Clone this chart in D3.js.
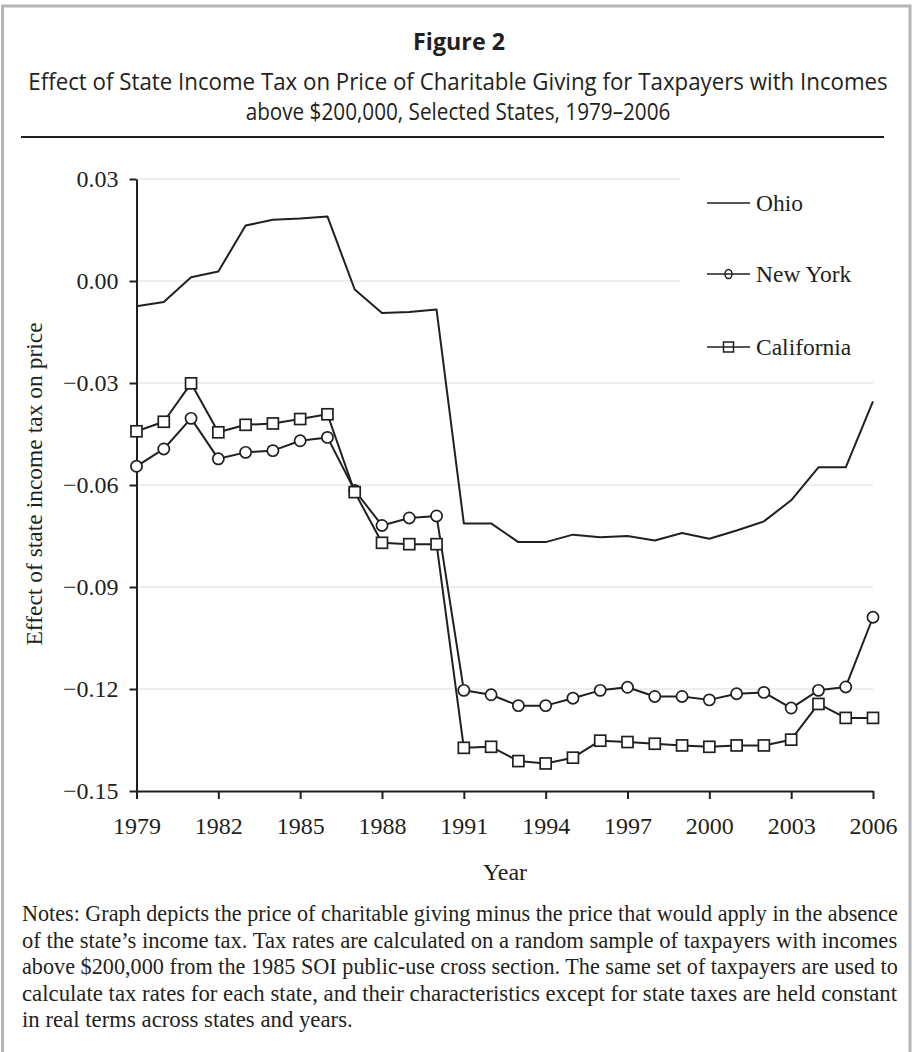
<!DOCTYPE html>
<html>
<head>
<meta charset="utf-8">
<script src="https://cdn.jsdelivr.net/npm/d3@7"></script>
<style>
  body { margin: 0; background: #fff; }
  svg { display: block; }
  .axis path, .axis line { stroke: #231f20; stroke-width: 2; }
  .axis text { font-family: "Liberation Serif", "Times New Roman", serif; font-size: 24px; fill: #231f20; }
</style>
</head>
<body>
<div id="chart"></div>
<script>
// values, one per year 1979-2006
var years = [1979, 1980, 1981, 1982, 1983, 1984, 1985, 1986, 1987, 1988, 1989, 1990, 1991, 1992,
             1993, 1994, 1995, 1996, 1997, 1998, 1999, 2000, 2001, 2002, 2003, 2004, 2005, 2006];

var ohio = [-0.0074, -0.0062, 0.0011, 0.0028, 0.0163, 0.0180, 0.0184, 0.0190, -0.0025, -0.0094,
            -0.0091, -0.0084, -0.0713, -0.0713, -0.0768, -0.0768, -0.0746, -0.0754, -0.0750, -0.0763,
            -0.0741, -0.0758, -0.0734, -0.0707, -0.0645, -0.0548, -0.0548, -0.0354];

var newYork = [-0.0545, -0.0494, -0.0404, -0.0523, -0.0504, -0.0499, -0.0470, -0.0460, -0.0616, -0.0719,
               -0.0697, -0.0691, -0.1204, -0.1217, -0.1249, -0.1249, -0.1227, -0.1204, -0.1195, -0.1222,
               -0.1222, -0.1232, -0.1214, -0.1210, -0.1256, -0.1204, -0.1194, -0.0989];

var california = [-0.0442, -0.0414, -0.0301, -0.0445, -0.0423, -0.0419, -0.0406, -0.0392, -0.0621, -0.0770,
                  -0.0774, -0.0774, -0.1373, -0.1370, -0.1412, -0.1419, -0.1402, -0.1352, -0.1356, -0.1361,
                  -0.1366, -0.1370, -0.1366, -0.1366, -0.1349, -0.1244, -0.1285, -0.1285];

var seriesNames = ["Ohio", "New York", "California"];
var xTicks = [1979, 1982, 1985, 1988, 1991, 1994, 1997, 2000, 2003, 2006];
var yTicks = [0.03, 0.00, -0.03, -0.06, -0.09, -0.12, -0.15];
var gridTicks = [0.03, 0.00, -0.03, -0.06, -0.09, -0.12];

var figureLabel = "Figure 2";
var titleLines = [
  "Effect of State Income Tax on Price of Charitable Giving for Taxpayers with Incomes",
  "above $200,000, Selected States, 1979\u20132006"
];
var xTitle = "Year";
var yTitle = "Effect of state income tax on price";
var noteLines = [
  "Notes: Graph depicts the price of charitable giving minus the price that would apply in the absence",
  "of the state\u2019s income tax. Tax rates are calculated on a random sample of taxpayers with incomes",
  "above $200,000 from the 1985 SOI public-use cross section. The same set of taxpayers are used to",
  "calculate tax rates for each state, and their characteristics except for state taxes are held constant",
  "in real terms across states and years."
];

var W = 914, H = 1052;
var ink = "#231f20";
var serif = '"Liberation Serif", "Times New Roman", serif';
var sans = '"Open Sans", "Noto Sans", sans-serif';

var svg = d3.select("#chart").append("svg")
    .attr("width", W)
    .attr("height", H);

svg.append("rect").attr("width", W).attr("height", H).attr("fill", "#fff");

// squeeze a text horizontally so it spans `width` px (the source faces are narrower)
function fitWidth(sel, x0, y0, width) {
  var len = sel.node().getComputedTextLength();
  sel.attr("x", 0).attr("y", 0)
     .attr("transform", "translate(" + x0 + "," + y0 + ") scale(" + (width / len) + ",1)");
  return width / len;
}

// outer frame
svg.append("rect")
    .attr("x", 2.5).attr("y", 6)
    .attr("width", 907.5).attr("height", 1060)
    .attr("fill", "none")
    .attr("stroke", "#b4b4b4")
    .attr("stroke-width", 3);

// heading
var fig = svg.append("text")
    .attr("text-anchor", "middle")
    .attr("font-family", sans).attr("font-weight", 700).attr("font-size", 24)
    .attr("fill", ink)
    .text(figureLabel);
fitWidth(fig, 459, 50, 92);

var titleWidths = [860, 425];
titleLines.forEach(function(t, i) {
  var s = svg.append("text")
      .attr("text-anchor", "middle")
      .attr("font-family", sans).attr("font-size", 23.5)
      .attr("fill", ink)
      .text(t);
  fitWidth(s, 458, 90 + i * 30, titleWidths[i]);
});

svg.append("line")
    .attr("x1", 21).attr("x2", 884)
    .attr("y1", 137).attr("y2", 137)
    .attr("stroke", ink).attr("stroke-width", 2);

// scales
var x = d3.scaleLinear().domain([1979, 2006]).range([136.5, 873]);
var y = d3.scaleLinear().domain([-0.15, 0.03]).range([791, 179]);

// gridlines
svg.append("g")
  .selectAll("line")
  .data(gridTicks)
  .enter().append("line")
    .attr("x1", x(1979)).attr("x2", x(2006))
    .attr("y1", function(d) { return y(d); })
    .attr("y2", function(d) { return y(d); })
    .attr("stroke", "#b8b8b8")
    .attr("stroke-width", 1)
    .attr("stroke-dasharray", "1,1");

// legend backing covers the gridlines
svg.append("rect")
    .attr("x", 680).attr("y", 172)
    .attr("width", 205).attr("height", 195)
    .attr("fill", "#fff");

// axes
svg.append("g")
    .attr("class", "axis")
    .attr("transform", "translate(0," + y(-0.15) + ")")
    .call(d3.axisBottom(x).tickValues(xTicks).tickSize(8).tickSizeOuter(0).tickPadding(18)
      .tickFormat(d3.format("d")));

svg.append("g")
    .attr("class", "axis")
    .attr("transform", "translate(" + x(1979) + ",0)")
    .call(d3.axisLeft(y).tickValues(yTicks).tickSize(7).tickSizeOuter(0).tickPadding(11)
      .tickFormat(d3.format(".2f")));

// axis titles
svg.append("text")
    .attr("x", 505).attr("y", 880)
    .attr("text-anchor", "middle")
    .attr("font-family", serif).attr("font-size", 24)
    .attr("fill", ink)
    .text(xTitle);

svg.append("text")
    .attr("transform", "translate(42,484) rotate(-90)")
    .attr("text-anchor", "middle")
    .attr("font-family", serif).attr("font-size", 23.5)
    .attr("fill", ink)
    .text(yTitle);

// series
var series = [
  { name: seriesNames[0], values: ohio, marker: null },
  { name: seriesNames[1], values: newYork, marker: "circle" },
  { name: seriesNames[2], values: california, marker: "square" }
];

var line = d3.line()
    .x(function(d) { return x(d.year); })
    .y(function(d) { return y(d.value); });

series.forEach(function(s) {
  var pts = years.map(function(yr, i) { return { year: yr, value: s.values[i] }; });

  svg.append("path")
      .datum(pts)
      .attr("d", line)
      .attr("fill", "none")
      .attr("stroke", ink)
      .attr("stroke-width", 2)
      .attr("stroke-linejoin", "round");

  if (s.marker == "circle") {
    svg.append("g").selectAll("circle")
      .data(pts)
      .enter().append("circle")
        .attr("cx", function(d) { return x(d.year); })
        .attr("cy", function(d) { return y(d.value); })
        .attr("r", 5.6)
        .attr("fill", "#fff")
        .attr("stroke", ink)
        .attr("stroke-width", 1.7);
  }
  if (s.marker == "square") {
    svg.append("g").selectAll("rect")
      .data(pts)
      .enter().append("rect")
        .attr("x", function(d) { return x(d.year) - 5.5; })
        .attr("y", function(d) { return y(d.value) - 5.5; })
        .attr("width", 11).attr("height", 11)
        .attr("fill", "#fff")
        .attr("stroke", ink)
        .attr("stroke-width", 1.7);
  }
});

// legend
var legendY = [203, 274, 347];
var legend = svg.append("g")
  .selectAll("g")
  .data(series)
  .enter().append("g")
    .attr("transform", function(d, i) { return "translate(707," + legendY[i] + ")"; });

legend.append("line")
    .attr("x1", 0).attr("x2", 43)
    .attr("stroke", ink).attr("stroke-width", 1.6);

legend.filter(function(d) { return d.marker == "circle"; })
  .append("ellipse")
    .attr("cx", 21.5).attr("rx", 3.5).attr("ry", 4.5)
    .attr("fill", "none").attr("stroke", ink).attr("stroke-width", 1.5);

legend.filter(function(d) { return d.marker == "square"; })
  .append("rect")
    .attr("x", 16.5).attr("y", -5).attr("width", 10).attr("height", 10)
    .attr("fill", "none").attr("stroke", ink).attr("stroke-width", 1.5);

legend.append("text")
    .attr("x", 49).attr("dy", "0.33em")
    .attr("font-family", serif).attr("font-size", 23.5)
    .attr("fill", ink)
    .text(function(d) { return d.name; });

// notes, justified to the frame
var notes = svg.append("g")
    .attr("font-family", serif).attr("font-size", 23)
    .attr("fill", ink);

var squeeze = 1;
noteLines.forEach(function(t, i) {
  var s = notes.append("text").text(t);
  var yy = 921 + i * 26.5;
  if (i < noteLines.length - 1) {
    squeeze = fitWidth(s, 22, yy, 876);
  } else {
    fitWidth(s, 22, yy, s.node().getComputedTextLength() * squeeze);
  }
});
</script>
</body>
</html>
